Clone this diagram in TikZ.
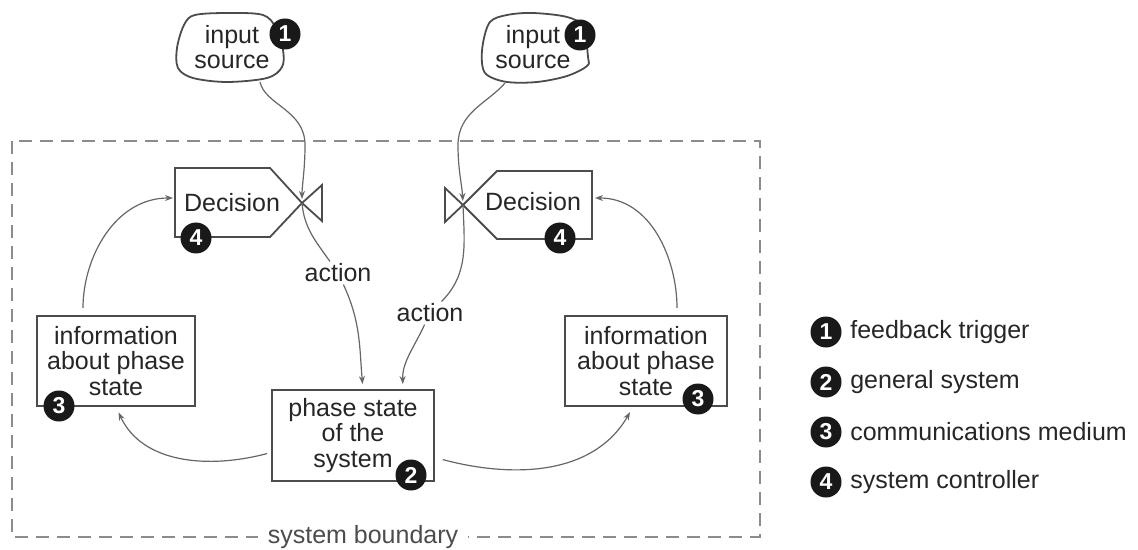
\documentclass[tikz,border=0pt]{standalone}
\usepackage{fontspec}
\setmainfont{Liberation Sans}
\usetikzlibrary{arrows.meta,positioning}
\tikzset{state box/.style={rectangle,draw=black!70,line width=1pt,minimum width=81pt,minimum height=45pt,inner sep=0pt,align=center,font=\fontsize{12.5}{12.75}\selectfont,text=black!85},
         badge/.style={circle,fill=black!90,text=white,minimum size=15.5pt,inner sep=0pt,font=\fontsize{11.5}{11.5}\selectfont\bfseries},
         plain text/.style={rectangle,draw=none,fill=none,inner sep=1pt,align=center,font=\fontsize{12.5}{12.75}\selectfont,text=black!85},
         link/.style={draw=black!60,line width=0.6pt},
         outline/.style={draw=black!70,line width=0.9pt,line join=miter}
}
\begin{document}
\begin{tikzpicture}[x=0.5pt,y=-0.5pt,>={Stealth[length=4pt,width=3pt]}]
\useasboundingbox (0,0) rectangle (1138,550);
% system boundary
\draw[black!45,line width=1.3pt,dash pattern=on 6.5pt off 4pt] (12,141) rectangle (760,537);
\node[plain text,fill=white,inner xsep=5pt,text=black!70] (bound) at (363,537) {system boundary};

% input sources
\draw[outline] plot[smooth cycle,tension=0.55] coordinates {(195,15) (230,13) (263,15) (276,28) (283,50) (282,67) (267,78) (227,82) (193,78) (178,68) (177,48) (184,25)};
\draw[outline] plot[smooth cycle,tension=0.55] coordinates {(507,15) (533,13) (567,17) (583,27) (588,57) (587,66) (567,76) (537,82) (507,82) (487,75) (482,63) (483,43) (490,22)};
\node[plain text] (srcL) at (232,47) {input\\source};
\node[plain text] (srcR) at (533,47) {input\\source};
\node[badge] (b1L) at (285,34) {1};
\node[badge] (b1R) at (580,35) {1};
\coordinate (srcLout) at (260,82);
\coordinate (srcRout) at (505,83);

% decisions with valves
\coordinate (vL) at (302,203);
\coordinate (vR) at (463,205);
\draw[outline] (175,168) -- (270,168) -- (vL) -- (270,237) -- (175,237) -- cycle;
\draw[outline] (vL) -- (322,185) -- (322,221) -- cycle;
\draw[outline] (592,171) -- (497,171) -- (vR) -- (497,239) -- (592,239) -- cycle;
\draw[outline] (vR) -- (445,188) -- (445,222) -- cycle;
\node[plain text] (decL) at (232,203) {Decision};
\node[plain text] (decR) at (533,202) {Decision};
\node[badge] (b4L) at (196,238) {4};
\node[badge] (b4R) at (560,238) {4};
\coordinate (decLin) at (173,198);
\coordinate (decRin) at (595,198);

% states
\node[state box,minimum width=79pt] (infoL) at (116,361) {information\\about phase\\state};
\node[state box] (infoR) at (646,361) {information\\about phase\\state};
\node[state box,minimum height=45.5pt] (sysC) at (353,435.5) {phase state\\of the\\system};
\node[badge] (b3L) at (59,406) {3};
\node[badge] (b3R) at (698,399) {3};
\node[badge] (b2) at (411,475) {2};

\node[plain text] (actL) at (338,273) {action};
\node[plain text] (actR) at (430,313) {action};

% connectors
\draw[link,->,shorten >=2pt] (srcLout) .. controls (265,105) and (305,110) .. (305,145) .. controls (305,170) and (302,185) .. (vL);
\draw[link,->,shorten >=2pt] (srcRout) .. controls (488,103) and (458,112) .. (458,145) .. controls (458,170) and (462,185) .. (vR);
\draw[link] (vL) to[out=-85,in=125] (actL);
\draw[link,->,shorten >=2.5pt] (actL) to[out=-65,in=95] ([xshift=5pt]sysC.north);
\draw[link] (vR) to[out=-88,in=45] (actR);
\draw[link,->,shorten >=2.5pt] (actR) to[out=-115,in=92] ([xshift=25pt]sysC.north);
\draw[link,->,shorten <=3.5pt] ([xshift=-16.5pt]infoL.north) to[out=90,in=180] (decLin);
\draw[link,->,shorten <=3.5pt] ([xshift=15.5pt]infoR.north) to[out=90,in=0] (decRin);
\draw[link,->,shorten <=2pt,shorten >=3pt] ([yshift=-8.5pt]sysC.west) to[out=195,in=-65] (infoL.south);
\draw[link,->,shorten <=4pt,shorten >=3pt] ([yshift=-11pt]sysC.east) to[out=-15,in=-120] ([xshift=-6.5pt]infoR.south);

% legend
\node[badge] (leg1) at (826,332) {1};
\node[badge] (leg2) at (826,382) {2};
\node[badge] (leg3) at (826,432) {3};
\node[badge] (leg4) at (826,482) {4};
\node[plain text,right=3pt of leg1] (legt1) {feedback trigger};
\node[plain text,right=3pt of leg2] (legt2) {general system};
\node[plain text,right=3pt of leg3] (legt3) {communications medium};
\node[plain text,right=3pt of leg4] (legt4) {system controller};
\end{tikzpicture}
\end{document}
